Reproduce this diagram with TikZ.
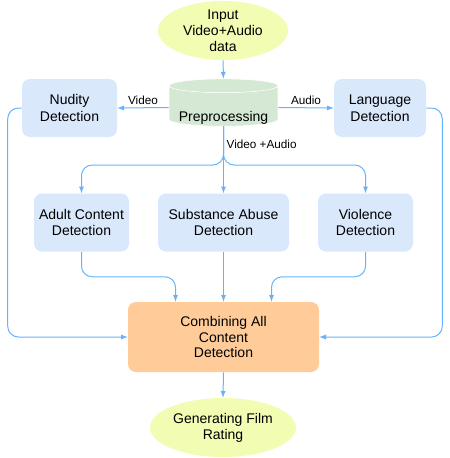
\documentclass[tikz,border=0pt]{standalone}
\usepackage{fontspec}
\setmainfont{Liberation Sans}
\usetikzlibrary{shapes.geometric,arrows}
\definecolor{boxblue}{HTML}{DAE8FC}
\definecolor{cylgreen}{HTML}{D5E8D4}
\definecolor{mergeorange}{HTML}{FFCC99}
\definecolor{ellyellow}{HTML}{F2FCB3}
\definecolor{linkblue}{HTML}{66B2FF}
\begin{document}
\begin{tikzpicture}[
			x=0.75pt, y=-0.75pt,
			detbox/.style = {rectangle, rounded corners=6pt, fill=boxblue, align=center, minimum height=43.5pt, font=\fontsize{10.5}{12.5}\selectfont, execute at begin node=\setlength{\baselineskip}{12.5pt}},
			ellip/.style  = {ellipse, fill=ellyellow, align=center, inner sep=0pt, minimum height=44.25pt, font=\fontsize{10.5}{12}\selectfont},
			mergebox/.style = {detbox, fill=mergeorange, minimum width=143.25pt, minimum height=52.5pt, execute at begin node=\setlength{\baselineskip}{11.8pt}},
			cyl/.style = {cylinder, shape border rotate=90, aspect=0.14, draw=white, thin, cylinder uses custom fill, cylinder body fill=cylgreen, cylinder end fill=cylgreen, minimum width=81.75pt, minimum height=35.5pt, font=\fontsize{10.5}{12.5}\selectfont},
			lbl/.style = {font=\fontsize{8.8}{10}\selectfont, inner sep=2pt},
			conn/.style = {->, draw=linkblue, line width=0.75pt},
			>=latex]
			
			\useasboundingbox (0,0) rectangle (450,458);
			
			\node[ellip, minimum width=97.5pt] (inp) at (223,30.5) {Input\\Video+Audio\\data};
			\node[cyl] (prep) at (223.5,107.5) {\raisebox{-10.5pt}[0pt][0pt]{Preprocessing}};
			
			\node[detbox, minimum width=71.25pt] (nud) at (69.5,108) {Nudity\\Detection};
			\node[detbox, minimum width=69pt] (lang) at (380,108) {Language\\Detection};
			
			\node[detbox, minimum width=71.25pt] (adult) at (81.5,222.5) {Adult Content\\Detection};
			\node[detbox, minimum width=98.25pt] (subst) at (223.5,222.5) {Substance Abuse\\Detection};
			\node[detbox, minimum width=71.25pt] (viol) at (365.5,222.5) {Violence\\Detection};
			
			\node[mergebox] (comb) at (223.5,337) {Combining All\\Content\\Detection};
			\node[ellip, minimum width=109.5pt] (out) at (223,427.5) {Generating Film\\Rating};
			
			\coordinate (split) at (223.5,165);
			
			\draw[conn] (inp) -- (prep);
			\draw[conn] (prep.west) -- node[lbl, above] {Video} (nud.east);
			\draw[conn] (prep.east) -- node[lbl, above] {Audio} (lang.west);
			
			\draw[conn, -] (prep.south) -- node[lbl, right, pos=0.45] {Video +Audio} (split);
			\draw[conn] (split) -- (subst.north);
			\foreach \det in {adult, viol}
			\draw[conn, rounded corners=8pt] (prep.south) -- (split) -| (\det.north);
			
			\draw[conn] (subst.south) -- (comb.north);
			\foreach \det/\off in {adult/-36pt, viol/36pt}
			\draw[conn, rounded corners=8pt] (\det.south) -- ++(0,25) -| ([xshift=\off]comb.north);
			
			\draw[conn, rounded corners=8pt] (nud.west) -- ++(-14,0) |- (comb.west);
			\draw[conn, rounded corners=8pt] (lang.east) -- ++(16,0) |- (comb.east);
			
			\draw[conn] (comb.south) -- (out.north);
		\end{tikzpicture}
\end{document}
